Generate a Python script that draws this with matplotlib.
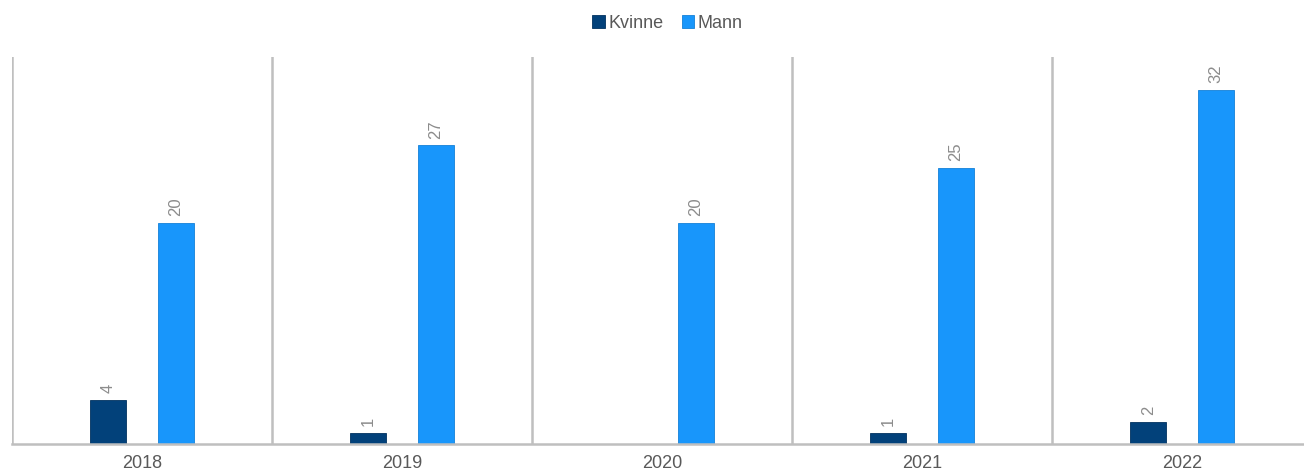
import numpy as np
import matplotlib.pyplot as plt

years = ['2018', '2019', '2020', '2021', '2022']
kvinne = [4, 1, 0, 1, 2]
mann = [20, 27, 20, 25, 32]

plt.rcParams['font.family'] = ['Liberation Sans', 'DejaVu Sans']

fig = plt.figure(figsize=(13.04, 4.72), dpi=100)
ax = fig.add_axes([12/1304, 28/472, 1292/1304, 387/472])

x = np.arange(len(years))
w = 0.138
off = 0.13
b1 = ax.bar(x - off, kvinne, w, color='#02417a', edgecolor='#01325f', linewidth=0.6, label='Kvinne')
b2 = ax.bar(x + off, mann, w, color='#1896fb', edgecolor='#1480d8', linewidth=0.6, label='Mann')

for bars, vals in ((b1, kvinne), (b2, mann)):
    for bar, v in zip(bars, vals):
        if v == 0:
            continue
        ax.annotate(str(v), (bar.get_x() + bar.get_width()/2, v),
                    xytext=(0, 5), textcoords='offset points',
                    rotation=90, ha='center', va='bottom',
                    color='#8c8c8c', fontsize=12)

# group separators
for s in np.arange(-0.5, len(years), 1.0):
    ax.axvline(s, color='#bfbfbf', linewidth=1.8, zorder=0)

ax.set_xlim(-0.5, -0.5 + 1292/260)
ax.set_ylim(0, 35)
ax.set_xticks(x)
ax.set_xticklabels(years, color='#595959', fontsize=13)
ax.tick_params(axis='x', length=0, pad=8)
ax.set_yticks([])
for side in ('top', 'right', 'left'):
    ax.spines[side].set_visible(False)
ax.spines['bottom'].set_color('#bfbfbf')
ax.spines['bottom'].set_linewidth(1.8)

fig.legend(loc='upper center', bbox_to_anchor=(0.512, 0.995), ncol=2, frameon=False,
           fontsize=13, handlelength=0.7, handleheight=0.7, handletextpad=0.2,
           columnspacing=1.0, labelcolor='#595959', borderaxespad=0.3)

plt.savefig('out.png', dpi=100)
